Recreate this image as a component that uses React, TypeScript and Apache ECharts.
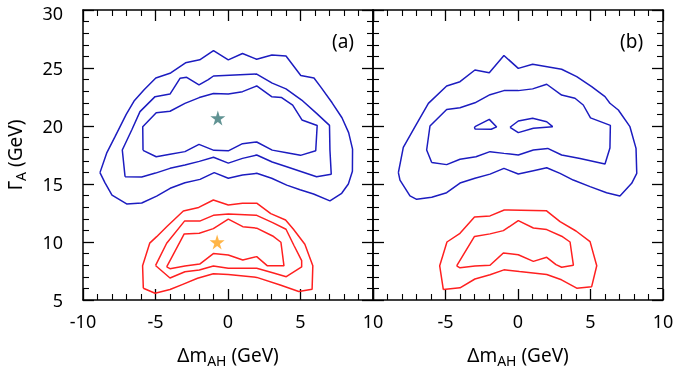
import React, { useEffect, useRef } from "react";
import * as echarts from "echarts";

type P = [number, number];

// Panel (a)
const blueOuterA: P[] = [[-8.83,15.98],[-8.37,17.66],[-7.79,19.08],[-7.02,21.0],[-6.45,22.2],[-5.77,23.14],[-4.98,24.14],[-3.95,24.57],[-2.93,25.45],[-1.95,25.71],[-1.0,26.49],[0.02,25.7],[1.0,26.25],[1.98,25.75],[3.03,26.12],[4.0,26.03],[5.02,24.36],[5.93,24.14],[6.39,23.37],[7.18,22.0],[7.86,20.71],[8.32,19.43],[8.59,18.0],[8.58,16.1],[8.3,15.0],[7.84,14.2],[7.03,13.55],[5.9,14.14],[4.97,14.5],[4.05,14.9],[3.01,15.5],[1.98,15.92],[1.0,15.78],[0.02,15.49],[-0.95,15.98],[-1.93,15.4],[-2.97,15.11],[-3.99,14.63],[-4.92,13.95],[-5.95,13.36],[-6.99,13.28],[-8.0,14.05],[-8.48,15.1],[-8.83,15.98]];
const blueMidA: P[] = [[-7.1,15.63],[-7.29,17.93],[-6.64,19.66],[-6.07,21.24],[-5.03,22.53],[-4.0,22.75],[-3.31,24.11],[-2.85,24.2],[-2.0,23.55],[-1.36,24.0],[-1.0,24.31],[1.98,24.48],[3.05,23.7],[4.0,23.2],[5.08,22.24],[6.11,21.09],[7.0,20.05],[7.03,17.93],[7.12,15.85],[6.11,15.63],[5.08,16.06],[4.05,16.49],[3.05,16.9],[1.98,17.5],[1.0,17.21],[0.02,16.8],[-1.0,17.3],[-1.98,16.95],[-2.97,16.64],[-4.0,16.35],[-5.0,15.94],[-5.95,15.6],[-7.1,15.63]];
const blueInnerA: P[] = [[-5.86,17.9],[-5.88,19.94],[-4.95,21.15],[-4.0,21.27],[-2.97,21.95],[-1.98,22.45],[-1.0,22.8],[0.02,22.75],[1.0,22.96],[1.98,23.45],[3.01,22.53],[3.7,22.45],[4.46,21.8],[5.1,20.52],[6.15,20.05],[6.05,17.87],[5.0,17.47],[4.05,17.7],[3.05,17.92],[1.98,18.62],[1.0,18.48],[0.02,17.86],[-0.97,17.9],[-2.0,18.42],[-2.97,17.79],[-4.0,17.56],[-4.95,17.35],[-5.86,17.9]];
const redOuterA: P[] = [[-5.84,6.01],[-5.89,7.95],[-5.4,9.9],[-4.92,10.46],[-4.23,11.32],[-3.08,12.67],[-2.02,12.98],[-1.01,13.62],[0.02,13.19],[1.0,13.35],[1.98,13.35],[2.95,12.45],[3.97,11.9],[4.5,11.12],[5.3,9.8],[5.85,7.95],[5.8,5.92],[4.88,5.73],[3.6,6.3],[1.98,6.95],[0.02,7.2],[-1.01,7.27],[-2.1,6.87],[-3.12,6.35],[-4.0,5.9],[-5.03,5.58],[-5.84,6.01]];
const redMidA: P[] = [[-5.0,7.97],[-4.23,9.89],[-3.0,11.8],[-1.95,11.8],[-1.01,12.3],[0.02,12.41],[1.98,12.3],[3.08,11.67],[4.0,11.1],[4.55,9.7],[5.08,8.4],[5.08,7.85],[4.02,7.01],[3.08,7.35],[1.98,7.73],[0.02,7.73],[-1.01,7.93],[-1.98,7.59],[-2.97,7.44],[-4.0,6.9],[-5.0,7.97]];
const redInnerA: P[] = [[-4.23,7.85],[-3.02,10.7],[-1.98,10.75],[-1.01,11.15],[0.02,11.97],[1.02,11.32],[1.98,11.19],[3.08,10.52],[3.65,9.98],[3.86,7.95],[2.7,7.96],[1.98,8.74],[1.02,8.45],[0.02,8.88],[-1.01,9.0],[-1.95,8.1],[-2.97,7.93],[-4.0,7.7],[-4.23,7.85]];
const starBlueA: P[] = [[-0.7, 20.7]];
const starOrangeA: P[] = [[-0.75, 10.0]];

// Panel (b)
const blueOuterB: P[] = [[-8.25,15.98],[-7.91,18.15],[-7.1,19.94],[-6.18,21.95],[-4.92,23.45],[-4.0,23.82],[-2.97,24.83],[-1.98,24.6],[-0.97,26.08],[0.02,24.97],[1.01,25.33],[3.01,24.89],[4.05,24.25],[5.08,23.39],[6.0,22.53],[6.34,21.96],[6.92,21.38],[7.72,19.94],[8.14,18.07],[8.19,15.92],[7.84,15.06],[7.03,13.97],[6.11,14.25],[4.97,14.77],[3.81,15.34],[2.9,15.92],[1.98,16.4],[1.06,16.15],[0.02,15.86],[-0.97,16.35],[-1.93,15.85],[-2.97,15.49],[-4.0,15.08],[-4.92,14.25],[-5.95,13.85],[-6.99,13.68],[-7.45,13.97],[-8.14,15.34],[-8.25,15.98]];
const blueMidB: P[] = [[-5.95,16.86],[-6.3,17.93],[-6.07,20.0],[-4.92,21.42],[-4.0,21.58],[-2.97,22.0],[-1.93,22.7],[-0.97,23.05],[0.02,23.05],[1.01,23.2],[1.98,23.6],[3.01,22.67],[3.93,22.39],[4.5,21.81],[5.0,20.7],[6.37,20.05],[6.34,18.1],[6.0,16.72],[4.28,17.2],[3.01,17.5],[2.05,18.07],[1.06,17.93],[0.02,17.5],[-0.97,17.64],[-1.93,17.79],[-2.9,17.35],[-4.0,17.13],[-4.92,16.67],[-5.95,16.86]];
const islandB1: P[] = [[-3.0,19.92],[-1.98,20.57],[-1.47,19.92],[-1.85,19.72],[-2.97,19.75],[-3.0,19.92]];
const islandB2: P[] = [[-0.55,19.89],[0.02,20.43],[1.01,20.66],[1.98,20.37],[2.39,19.94],[1.06,19.8],[0.02,19.43],[-0.55,19.89]];
const redOuterB: P[] = [[-5.15,5.9],[-5.4,7.95],[-4.9,10.0],[-4.0,10.75],[-3.0,12.15],[-1.93,12.25],[-0.95,12.76],[1.95,12.7],[2.9,11.75],[4.0,10.95],[4.97,10.03],[5.43,7.95],[5.08,6.15],[4.05,6.02],[3.0,6.74],[1.98,7.2],[0.1,7.45],[-0.97,7.6],[-1.93,7.17],[-2.97,6.81],[-4.0,6.05],[-5.15,5.9]];
const redInnerB: P[] = [[-4.23,7.95],[-3.0,10.48],[-1.93,10.7],[-1.01,10.98],[0.02,11.84],[1.06,11.21],[1.98,11.07],[3.01,10.5],[3.59,10.0],[3.82,8.0],[3.01,7.82],[2.62,8.05],[1.98,8.68],[1.06,8.33],[0.02,8.9],[-1.01,9.05],[-1.93,8.0],[-2.97,7.94],[-4.0,7.77],[-4.23,7.95]];

const xTicks = { min: -10, max: 10, interval: 5 };
const yTicks = { min: 5, max: 30, interval: 5 };
const panelLabels = ["(a)", "(b)"];

const BLUE = "#1c1cc0";
const RED = "#ff2020";
const FONT = "Noto Sans";
const STAR = "path://M50,0 L61,35 L98,35 L68,57 L79,91 L50,70 L21,91 L32,57 L2,35 L39,35 Z";

export default function App() {
  const ref = useRef<HTMLDivElement>(null);
  useEffect(() => {
    if (!ref.current) return;
    const chart = echarts.init(ref.current, undefined, { renderer: "svg" });
    const line = { show: true, onZero: false, lineStyle: { color: "#000", width: 1.5 } };
    const tick = { show: true, inside: true, length: 11, lineStyle: { color: "#000", width: 1.3 } };
    const minor = { show: true, splitNumber: 5, length: 6, lineStyle: { color: "#000", width: 1.1 } };
    const rich = {
      n: { fontSize: 19, fontFamily: FONT, color: "#000" },
      s: { fontSize: 14, fontFamily: FONT, color: "#000", padding: [10, 0, 0, 0] },
    };
    const xName = "{n|\u0394m}{s|AH}{n| (GeV)}";
    const mkX = (grid: number, pos: "top" | "bottom", labels: boolean, showMin: boolean) => ({
      type: "value", gridIndex: grid, position: pos, ...xTicks,
      axisLine: line, axisTick: tick, minorTick: minor, splitLine: { show: false },
      axisLabel: { show: labels, fontSize: 18, fontFamily: FONT, color: "#000", margin: 12, showMinLabel: showMin },
      name: labels ? xName : "", nameLocation: "middle", nameGap: 43, nameTextStyle: { rich },
    });
    const mkY = (grid: number, pos: "left" | "right", labels: boolean) => ({
      type: "value", gridIndex: grid, position: pos, ...yTicks,
      axisLine: line, axisTick: tick, minorTick: minor, splitLine: { show: false },
      axisLabel: {
        show: labels, fontSize: 18, fontFamily: FONT, color: "#000", margin: 20,
        formatter: (v: number) => (v === yTicks.max ? `{t|${v}}` : `{d|${v}}`),
        rich: {
          t: { fontSize: 18, fontFamily: FONT, color: "#000", lineHeight: 18, padding: [6, 0, 0, 0] },
          d: { fontSize: 18, fontFamily: FONT, color: "#000", lineHeight: 18 },
        },
      },
      name: labels ? "{n|\u0393}{s|A}{n| (GeV)}" : "", nameLocation: "middle", nameRotate: 90, nameGap: 56,
      nameTextStyle: { rich },
    });
    const ln = (data: P[], color: string, axis: number) => ({
      type: "line", data, xAxisIndex: axis, yAxisIndex: axis, symbol: "none",
      lineStyle: { color, width: 1.5 }, silent: true,
    });
    const star = (data: P[], color: string, axis: number) => ({
      type: "scatter", data, xAxisIndex: axis, yAxisIndex: axis, symbol: STAR, symbolSize: 15,
      itemStyle: { color }, silent: true,
    });
    chart.setOption({
      animation: false,
      grid: [
        { left: 83, top: 10, width: 290, height: 290, outerBoundsMode: "none", containLabel: false },
        { left: 373, top: 10, width: 290, height: 290, outerBoundsMode: "none", containLabel: false },
      ],
      xAxis: [mkX(0, "bottom", true, true), mkX(0, "top", false, true), mkX(1, "bottom", true, false), mkX(1, "top", false, true)],
      yAxis: [mkY(0, "left", true), mkY(0, "right", false), mkY(1, "left", false), mkY(1, "right", false)],
      series: [
        ln(blueOuterA, BLUE, 0), ln(blueMidA, BLUE, 0), ln(blueInnerA, BLUE, 0),
        ln(redOuterA, RED, 0), ln(redMidA, RED, 0), ln(redInnerA, RED, 0),
        star(starBlueA, "#3a7878", 0), star(starOrangeA, "#ffa31a", 0),
        ln(blueOuterB, BLUE, 2), ln(blueMidB, BLUE, 2), ln(islandB1, BLUE, 2), ln(islandB2, BLUE, 2),
        ln(redOuterB, RED, 2), ln(redInnerB, RED, 2),
      ],
      graphic: [
        { type: "text", left: 332, top: 31, style: { text: panelLabels[0], fontSize: 19, fontFamily: FONT, fill: "#000" } },
        { type: "text", left: 620, top: 31, style: { text: panelLabels[1], fontSize: 19, fontFamily: FONT, fill: "#000" } },
      ],
    });
    return () => chart.dispose();
  }, []);
  return <div ref={ref} style={{ position: "fixed", left: 0, top: 0, width: 675, height: 374 }} />;
}
